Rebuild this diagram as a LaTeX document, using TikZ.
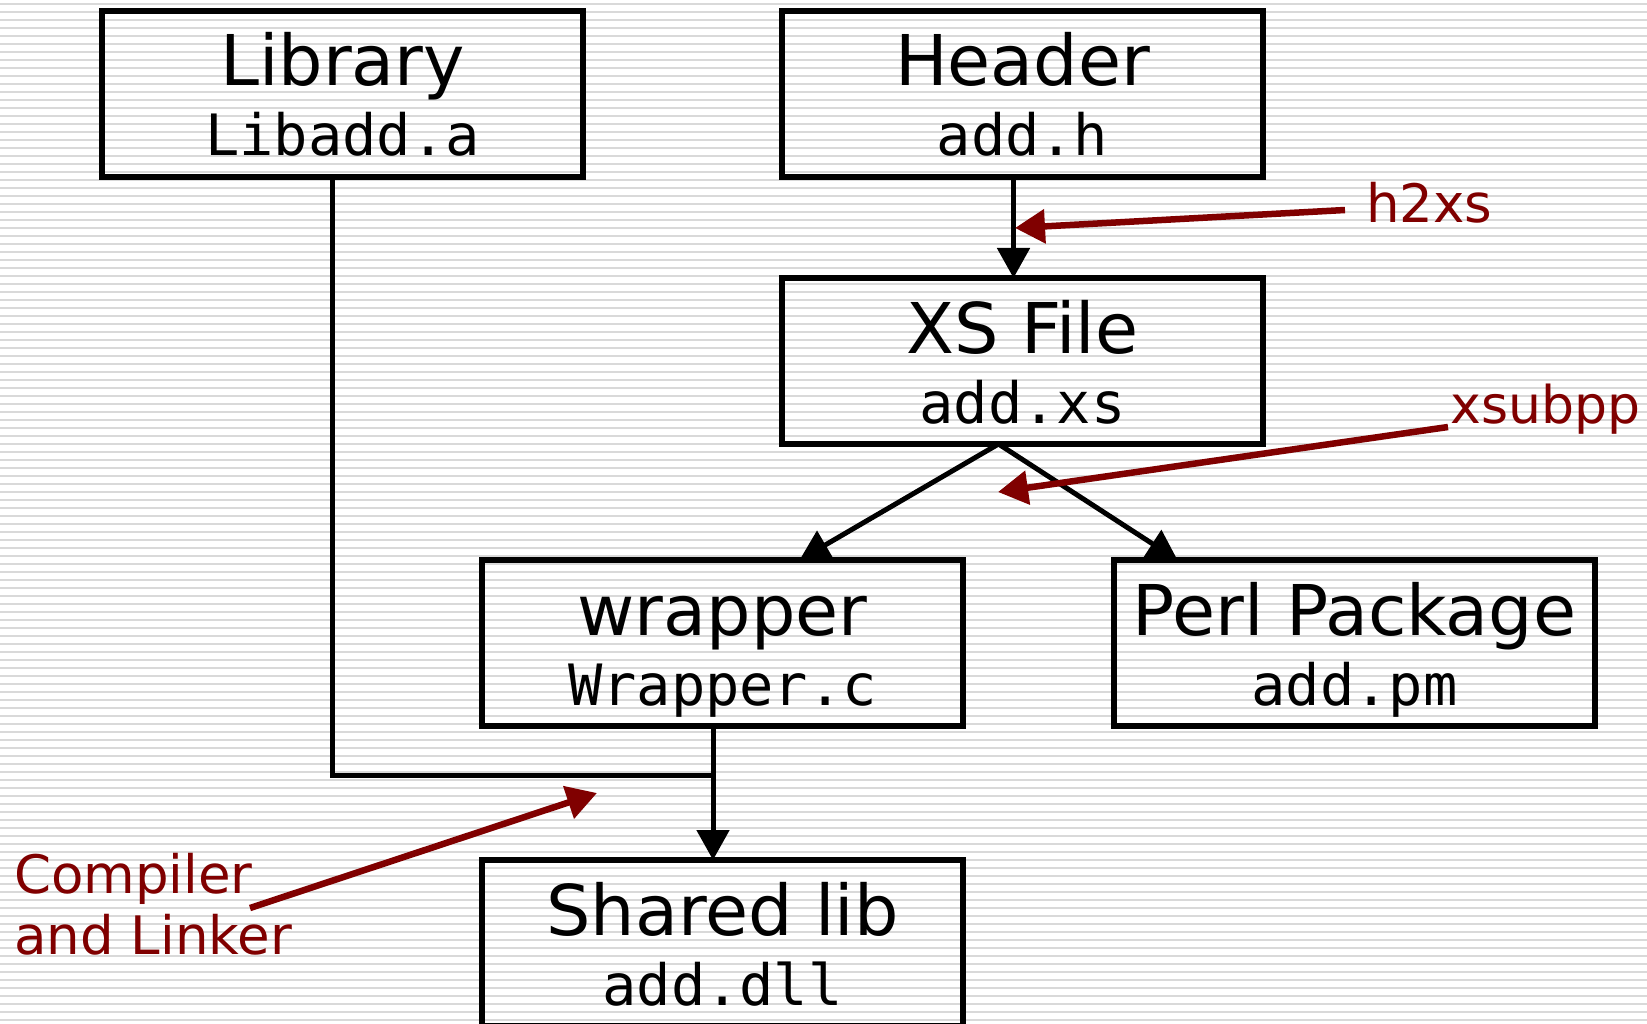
\documentclass[tikz,border=0pt]{standalone}
\usepackage{fontspec}
\setmainfont{DejaVu Sans}
\setmonofont{DejaVu Sans Mono}
\usetikzlibrary{arrows.meta}
\definecolor{dred}{HTML}{800000}
\definecolor{stripe}{HTML}{D9D9D9}
\begin{document}
\begin{tikzpicture}[x=1pt,y=-1pt,
  box/.style={draw=black, line width=6pt, minimum width=481pt, minimum height=166pt, inner sep=0pt, outer sep=0pt, anchor=north west},
  title/.style={anchor=base, inner sep=0pt, font=\fontsize{70}{80}\selectfont},
  mono/.style={anchor=base, inner sep=0pt, font=\ttfamily\fontsize{57}{66}\selectfont},
  redlbl/.style={anchor=base west, inner sep=0pt, text=dred, font=\fontsize{53}{61}\selectfont},
  conn/.style={draw=black, line width=5pt, -{Triangle[length=30pt,width=32pt]}},
  plainline/.style={draw=black, line width=5pt},
  redarrow/.style={draw=dred, line width=6.5pt, -{Triangle[length=30pt,width=33pt]}}
]
\useasboundingbox (0,0) rectangle (1647,1024);
\fill[white] (0,0) rectangle (1647,1024);
\foreach \y in {4,12,...,1020} \draw[stripe, line width=2pt] (0,\y) -- (1647,\y);

% boxes
\node[box] (lib) at (102,11) {};
\node[box] (hdr) at (782,11) {};
\node[box] (xs) at (782,278) {};
\node[box] (wrap) at (482,560) {};
\node[box] (perl) at (1114,560) {};
\node[box] (shl) at (482,860) {};

% texts
\node[title] (libT) at ([yshift=-75pt]lib.north) {Library};
\node[mono]  (libM) at ([yshift=-145pt]lib.north) {Libadd.a};
\node[title] (hdrT) at ([yshift=-75pt]hdr.north) {Header};
\node[mono]  (hdrM) at ([yshift=-145pt]hdr.north) {add.h};
\node[title] (xsT) at ([yshift=-75pt]xs.north) {XS File};
\node[mono]  (xsM) at ([yshift=-145pt]xs.north) {add.xs};
\node[title] (wrapT) at ([yshift=-75pt]wrap.north) {wrapper};
\node[mono]  (wrapM) at ([yshift=-145pt]wrap.north) {Wrapper.c};
\node[title] (perlT) at ([yshift=-75pt]perl.north) {Perl Package};
\node[mono]  (perlM) at ([yshift=-145pt]perl.north) {add.pm};
\node[title] (shlT) at ([yshift=-75pt]shl.north) {Shared lib};
\node[mono]  (shlM) at ([yshift=-145pt]shl.north) {add.dll};

% black connectors
\draw[conn] ([xshift=-9pt]hdr.south) -- ([xshift=-9pt]xs.north);
\draw[conn] ([xshift=-24pt]xs.south) -- ([xshift=77pt]wrap.north);
\draw[conn] ([xshift=-24pt]xs.south) -- ([xshift=-177pt]perl.north);
\draw[conn] ([xshift=-9.5pt]wrap.south) -- ([xshift=-9.5pt]shl.north);
\coordinate (join) at (713,775);
\draw[plainline] ([xshift=-10pt]lib.south) |- (join);

% red labels and arrows
\node[redlbl] (h2l) at (1366,223) {h2xs};
\node[redlbl, font=\fontsize{52}{61}\selectfont] (xsl) at (1450,423) {xsubpp};
\node[redlbl] (cl1) at (14,893) {Compiler};
\node[redlbl] (cl2) at (14,954) {and Linker};
\coordinate (h2s) at (1345,210);
\coordinate (h2t) at (1015,228);
\coordinate (xss) at (1448,427);
\coordinate (xst) at (998,492);
\coordinate (cls) at (250,908);
\coordinate (clt) at (597,793);
\draw[redarrow] (h2s) -- (h2t);
\draw[redarrow] (xss) -- (xst);
\draw[redarrow] (cls) -- (clt);
\end{tikzpicture}
\end{document}
